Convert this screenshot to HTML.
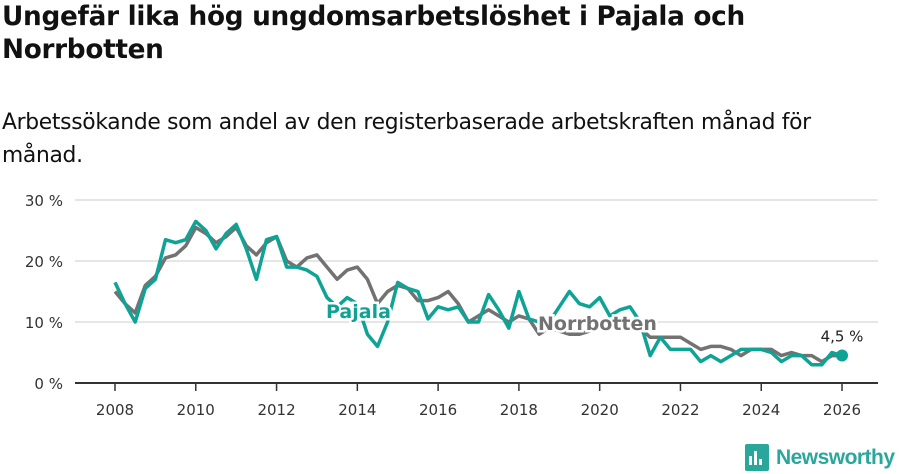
<!DOCTYPE html>
<html><head><meta charset="utf-8">
<style>
body{margin:0;width:900px;height:474px;background:#fff;font-family:"Liberation Sans","DejaVu Sans",sans-serif;color:#111;overflow:hidden;position:relative}
h1{position:absolute;left:2px;top:1px;margin:0;font-size:26.3px;line-height:33px;font-weight:bold;font-family:"DejaVu Sans",sans-serif;letter-spacing:-0.3px}
.sub{position:absolute;left:2px;top:106px;font-size:21.8px;line-height:33px;font-family:"DejaVu Sans",sans-serif;letter-spacing:-0.3px}
svg{position:absolute;left:0;top:0}
</style></head><body>
<h1>Ungefär lika hög ungdomsarbetslöshet i Pajala och<br>Norrbotten</h1>
<div class="sub">Arbetssökande som andel av den registerbaserade arbetskraften månad för<br>månad.</div>
<svg id="c" width="900" height="474"></svg>
<script>
const startYear=2008, step=0.25;
const pajala=[16.5,13,10,15.5,17,23.5,23,23.5,26.5,25,22,24.5,26,22,17,23.5,24,19,19,18.5,17.5,14,12.5,14,13,8,6,10,16.5,15.5,15,10.5,12.5,12,12.5,10,10,14.5,12,9,15,10.5,10,10,12.5,15,13,12.5,14,11,12,12.5,10,4.5,7.5,5.5,5.5,5.5,3.5,4.5,3.5,4.5,5.5,5.5,5.5,5,3.5,4.5,4.5,3,3,5,4.5];
const norrbotten=[15,13,11.5,16,17.5,20.5,21,22.5,25.5,24.5,23,24,25.5,22.5,21,23,24,20,19,20.5,21,19,17,18.5,19,17,13,15,16,15.5,13.5,13.5,14,15,13,10,11,12,11,10,11,10.5,8,9,8.5,8,8,8.5,9,10,10,10,9,7.5,7.5,7.5,7.5,6.5,5.5,6,6,5.5,4.5,5.5,5.5,5.5,4.5,5,4.5,4.5,3.5,4.5,4.5];
const yTicks=[0,10,20,30];
const yTickLabels=["0 %","10 %","20 %","30 %"];
const xTicks=[2008,2010,2012,2014,2016,2018,2020,2022,2024,2026];
const lastLabel="4,5 %";
const NS="http://www.w3.org/2000/svg",svg=document.getElementById('c');
const X=y=>115+(y-2008)*40.39, Y=v=>383-v*6.1;
function mk(t,a,p){const e=document.createElementNS(NS,t);for(const k in a)e.setAttribute(k,a[k]);(p||svg).appendChild(e);return e;}
yTicks.forEach((t,i)=>{
 const g=mk('line',{x1:75,x2:878,y1:Y(t),y2:Y(t),stroke:'#ddd','stroke-width':1.5});
 
 
 const l=mk('text',{x:63,y:Y(t)+6,'text-anchor':'end','font-size':15,fill:'#333','font-family':'DejaVu Sans, sans-serif'});
 l.textContent=yTickLabels[i];
 
 
});
function series(vals,color,name){
 const d=vals.map((v,i)=>(i?'L':'M')+X(startYear+i*step).toFixed(1)+' '+Y(v).toFixed(1)).join(' ');
 const p=mk('path',{d:d,fill:'none',stroke:color,'stroke-width':3.5,'stroke-linejoin':'round'});
 
 
}
series(norrbotten,'#727272','norrbotten-line');
series(pajala,'#0fa396','pajala-line');
const ax=mk('line',{x1:75,x2:878,y1:383,y2:383,stroke:'#333','stroke-width':2});


xTicks.forEach(t=>{
 const tk=mk('line',{x1:X(t),x2:X(t),y1:383,y2:391,stroke:'#333','stroke-width':1.5});
 
 
 const l=mk('text',{x:X(t),y:415,'text-anchor':'middle','font-size':15,fill:'#333','font-family':'DejaVu Sans, sans-serif'});
 l.textContent=t;
 
 
});
function lab(txt,x,y,color,name){
 const l=mk('text',{x:x,y:y,'font-size':19,'font-weight':'bold',fill:color,stroke:'#fff','stroke-width':5,'paint-order':'stroke','font-family':'DejaVu Sans, sans-serif'});
 l.textContent=txt;
 
 
}
lab('Pajala',326,318,'#0fa396','pajala-label');
lab('Norrbotten',538,330,'#727272','norrbotten-label');
const li=pajala.length-1;
const dot=mk('circle',{cx:X(startYear+li*step),cy:Y(pajala[li]),r:6,fill:'#0fa396'});


const lv=mk('text',{x:X(startYear+li*step),y:Y(pajala[li])-14,'text-anchor':'middle','font-size':15,fill:'#222','font-family':'DejaVu Sans, sans-serif'});
lv.textContent=lastLabel;


const g=mk('g',{});


mk('rect',{x:745,y:444,width:24,height:27,rx:2,fill:'#2aa79b'},g);
mk('rect',{x:749,y:456,width:3,height:9,fill:'#fff'},g);
mk('rect',{x:754,y:451,width:3,height:14,fill:'#fff'},g);
mk('rect',{x:759,y:459,width:3,height:6,fill:'#fff'},g);
const lt=mk('text',{x:776,y:464,'font-size':21,'font-weight':'bold',fill:'#2aa79b','font-family':'Liberation Sans, sans-serif',textLength:119},g);
lt.textContent='Newsworthy';
</script>
</body></html>
